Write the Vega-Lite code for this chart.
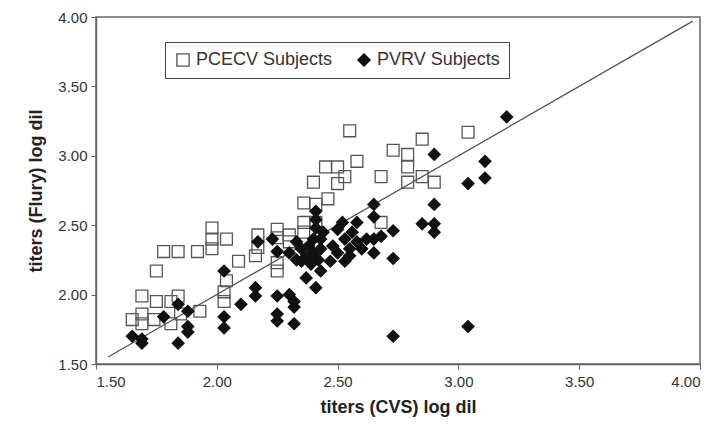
{
  "$schema": "https://vega.github.io/schema/vega-lite/v6.json",
  "width": 604,
  "height": 347,
  "autosize": {"type": "none"},
  "padding": {"left": 96, "top": 17, "right": 18, "bottom": 70},
  "background": "white",
  "config": {
    "view": {"stroke": "#666", "strokeWidth": 1.5},
    "font": "Liberation Sans",
    "axis": {
      "grid": false,
      "domainColor": "#666",
      "domainWidth": 1.5,
      "tickColor": "#666",
      "tickSize": 5,
      "labelFont": "Liberation Sans",
      "labelFontSize": 15,
      "labelColor": "#333",
      "titleFont": "Liberation Sans",
      "titleFontSize": 18,
      "titleFontWeight": "bold",
      "titleColor": "#222"
    }
  },
  "datasets": {
    "pts": [
      {"g": "PCECV Subjects", "x": 1.65, "y": 1.82},
      {"g": "PCECV Subjects", "x": 1.69, "y": 1.86},
      {"g": "PCECV Subjects", "x": 1.69, "y": 1.79},
      {"g": "PCECV Subjects", "x": 1.69, "y": 1.99},
      {"g": "PCECV Subjects", "x": 1.74, "y": 1.82},
      {"g": "PCECV Subjects", "x": 1.75, "y": 1.95},
      {"g": "PCECV Subjects", "x": 1.75, "y": 2.17},
      {"g": "PCECV Subjects", "x": 1.78, "y": 2.31},
      {"g": "PCECV Subjects", "x": 1.81, "y": 1.95},
      {"g": "PCECV Subjects", "x": 1.81, "y": 1.79},
      {"g": "PCECV Subjects", "x": 1.84, "y": 1.99},
      {"g": "PCECV Subjects", "x": 1.84, "y": 2.31},
      {"g": "PCECV Subjects", "x": 1.85, "y": 1.86},
      {"g": "PCECV Subjects", "x": 1.93, "y": 1.88},
      {"g": "PCECV Subjects", "x": 1.92, "y": 2.31},
      {"g": "PCECV Subjects", "x": 1.98, "y": 2.33},
      {"g": "PCECV Subjects", "x": 1.98, "y": 2.40},
      {"g": "PCECV Subjects", "x": 1.98, "y": 2.48},
      {"g": "PCECV Subjects", "x": 2.04, "y": 2.40},
      {"g": "PCECV Subjects", "x": 2.03, "y": 2.02},
      {"g": "PCECV Subjects", "x": 2.03, "y": 1.95},
      {"g": "PCECV Subjects", "x": 2.04, "y": 2.10},
      {"g": "PCECV Subjects", "x": 2.09, "y": 2.24},
      {"g": "PCECV Subjects", "x": 2.16, "y": 2.28},
      {"g": "PCECV Subjects", "x": 2.17, "y": 2.34},
      {"g": "PCECV Subjects", "x": 2.17, "y": 2.43},
      {"g": "PCECV Subjects", "x": 2.25, "y": 2.17},
      {"g": "PCECV Subjects", "x": 2.25, "y": 2.23},
      {"g": "PCECV Subjects", "x": 2.25, "y": 2.41},
      {"g": "PCECV Subjects", "x": 2.25, "y": 2.47},
      {"g": "PCECV Subjects", "x": 2.30, "y": 2.43},
      {"g": "PCECV Subjects", "x": 2.30, "y": 2.38},
      {"g": "PCECV Subjects", "x": 2.36, "y": 2.52},
      {"g": "PCECV Subjects", "x": 2.36, "y": 2.45},
      {"g": "PCECV Subjects", "x": 2.41, "y": 2.52},
      {"g": "PCECV Subjects", "x": 2.36, "y": 2.66},
      {"g": "PCECV Subjects", "x": 2.41, "y": 2.65},
      {"g": "PCECV Subjects", "x": 2.46, "y": 2.69},
      {"g": "PCECV Subjects", "x": 2.40, "y": 2.81},
      {"g": "PCECV Subjects", "x": 2.45, "y": 2.92},
      {"g": "PCECV Subjects", "x": 2.50, "y": 2.92},
      {"g": "PCECV Subjects", "x": 2.50, "y": 2.80},
      {"g": "PCECV Subjects", "x": 2.53, "y": 2.85},
      {"g": "PCECV Subjects", "x": 2.55, "y": 3.18},
      {"g": "PCECV Subjects", "x": 2.58, "y": 2.96},
      {"g": "PCECV Subjects", "x": 2.68, "y": 2.85},
      {"g": "PCECV Subjects", "x": 2.68, "y": 2.52},
      {"g": "PCECV Subjects", "x": 2.73, "y": 3.04},
      {"g": "PCECV Subjects", "x": 2.79, "y": 3.01},
      {"g": "PCECV Subjects", "x": 2.79, "y": 2.92},
      {"g": "PCECV Subjects", "x": 2.79, "y": 2.81},
      {"g": "PCECV Subjects", "x": 2.85, "y": 3.12},
      {"g": "PCECV Subjects", "x": 2.85, "y": 2.85},
      {"g": "PCECV Subjects", "x": 2.90, "y": 2.81},
      {"g": "PCECV Subjects", "x": 3.04, "y": 3.17},
      {"g": "PVRV Subjects", "x": 1.65, "y": 1.70},
      {"g": "PVRV Subjects", "x": 1.69, "y": 1.68},
      {"g": "PVRV Subjects", "x": 1.69, "y": 1.65},
      {"g": "PVRV Subjects", "x": 1.78, "y": 1.84},
      {"g": "PVRV Subjects", "x": 1.84, "y": 1.93},
      {"g": "PVRV Subjects", "x": 1.84, "y": 1.65},
      {"g": "PVRV Subjects", "x": 1.88, "y": 1.88},
      {"g": "PVRV Subjects", "x": 1.88, "y": 1.77},
      {"g": "PVRV Subjects", "x": 1.88, "y": 1.73},
      {"g": "PVRV Subjects", "x": 2.03, "y": 2.17},
      {"g": "PVRV Subjects", "x": 2.03, "y": 1.84},
      {"g": "PVRV Subjects", "x": 2.03, "y": 1.76},
      {"g": "PVRV Subjects", "x": 2.10, "y": 1.93},
      {"g": "PVRV Subjects", "x": 2.16, "y": 2.05},
      {"g": "PVRV Subjects", "x": 2.16, "y": 1.99},
      {"g": "PVRV Subjects", "x": 2.17, "y": 2.38},
      {"g": "PVRV Subjects", "x": 2.23, "y": 2.40},
      {"g": "PVRV Subjects", "x": 2.25, "y": 2.31},
      {"g": "PVRV Subjects", "x": 2.25, "y": 1.99},
      {"g": "PVRV Subjects", "x": 2.25, "y": 1.86},
      {"g": "PVRV Subjects", "x": 2.25, "y": 1.81},
      {"g": "PVRV Subjects", "x": 2.30, "y": 2.00},
      {"g": "PVRV Subjects", "x": 2.32, "y": 1.95},
      {"g": "PVRV Subjects", "x": 2.32, "y": 1.91},
      {"g": "PVRV Subjects", "x": 2.32, "y": 1.79},
      {"g": "PVRV Subjects", "x": 2.37, "y": 2.12},
      {"g": "PVRV Subjects", "x": 2.41, "y": 2.05},
      {"g": "PVRV Subjects", "x": 2.43, "y": 2.17},
      {"g": "PVRV Subjects", "x": 2.41, "y": 2.60},
      {"g": "PVRV Subjects", "x": 2.41, "y": 2.54},
      {"g": "PVRV Subjects", "x": 2.30, "y": 2.30},
      {"g": "PVRV Subjects", "x": 2.33, "y": 2.25},
      {"g": "PVRV Subjects", "x": 2.35, "y": 2.33},
      {"g": "PVRV Subjects", "x": 2.37, "y": 2.27},
      {"g": "PVRV Subjects", "x": 2.38, "y": 2.35},
      {"g": "PVRV Subjects", "x": 2.40, "y": 2.30},
      {"g": "PVRV Subjects", "x": 2.40, "y": 2.40},
      {"g": "PVRV Subjects", "x": 2.42, "y": 2.25},
      {"g": "PVRV Subjects", "x": 2.43, "y": 2.33},
      {"g": "PVRV Subjects", "x": 2.44, "y": 2.45},
      {"g": "PVRV Subjects", "x": 2.41, "y": 2.48},
      {"g": "PVRV Subjects", "x": 2.35, "y": 2.24},
      {"g": "PVRV Subjects", "x": 2.33, "y": 2.38},
      {"g": "PVRV Subjects", "x": 2.39, "y": 2.22},
      {"g": "PVRV Subjects", "x": 2.43, "y": 2.40},
      {"g": "PVRV Subjects", "x": 2.50, "y": 2.47},
      {"g": "PVRV Subjects", "x": 2.52, "y": 2.52},
      {"g": "PVRV Subjects", "x": 2.53, "y": 2.40},
      {"g": "PVRV Subjects", "x": 2.55, "y": 2.33},
      {"g": "PVRV Subjects", "x": 2.56, "y": 2.45},
      {"g": "PVRV Subjects", "x": 2.58, "y": 2.52},
      {"g": "PVRV Subjects", "x": 2.58, "y": 2.38},
      {"g": "PVRV Subjects", "x": 2.60, "y": 2.33},
      {"g": "PVRV Subjects", "x": 2.53, "y": 2.24},
      {"g": "PVRV Subjects", "x": 2.50, "y": 2.30},
      {"g": "PVRV Subjects", "x": 2.55, "y": 2.28},
      {"g": "PVRV Subjects", "x": 2.62, "y": 2.40},
      {"g": "PVRV Subjects", "x": 2.48, "y": 2.35},
      {"g": "PVRV Subjects", "x": 2.47, "y": 2.24},
      {"g": "PVRV Subjects", "x": 2.65, "y": 2.65},
      {"g": "PVRV Subjects", "x": 2.65, "y": 2.56},
      {"g": "PVRV Subjects", "x": 2.65, "y": 2.40},
      {"g": "PVRV Subjects", "x": 2.65, "y": 2.30},
      {"g": "PVRV Subjects", "x": 2.68, "y": 2.42},
      {"g": "PVRV Subjects", "x": 2.73, "y": 2.46},
      {"g": "PVRV Subjects", "x": 2.73, "y": 2.26},
      {"g": "PVRV Subjects", "x": 2.73, "y": 1.70},
      {"g": "PVRV Subjects", "x": 2.85, "y": 2.51},
      {"g": "PVRV Subjects", "x": 2.90, "y": 2.51},
      {"g": "PVRV Subjects", "x": 2.90, "y": 2.45},
      {"g": "PVRV Subjects", "x": 2.90, "y": 2.65},
      {"g": "PVRV Subjects", "x": 2.90, "y": 3.01},
      {"g": "PVRV Subjects", "x": 3.04, "y": 2.80},
      {"g": "PVRV Subjects", "x": 3.11, "y": 2.96},
      {"g": "PVRV Subjects", "x": 3.11, "y": 2.84},
      {"g": "PVRV Subjects", "x": 3.20, "y": 3.28},
      {"g": "PVRV Subjects", "x": 3.04, "y": 1.77}
    ],
    "diag": [
      {"x": 1.55, "y": 1.55},
      {"x": 3.97, "y": 3.97}
    ]
  },
  "layer": [
    {
      "data": {"name": "diag"},
      "mark": {"type": "line", "color": "#555", "strokeWidth": 1.3},
      "encoding": {
        "x": {"field": "x", "type": "quantitative"},
        "y": {"field": "y", "type": "quantitative"}
      }
    },
    {
      "data": {"name": "pts"},
      "mark": {"type": "point", "filled": true, "strokeWidth": 1.3, "opacity": 1},
      "encoding": {
        "x": {
          "field": "x", "type": "quantitative",
          "scale": {"domain": [1.5, 4.0], "nice": false, "zero": false},
          "axis": {"values": [1.5, 2.0, 2.5, 3.0, 3.5, 4.0], "format": ".2f", "title": "titers (CVS) log dil", "titlePadding": 9, "labelPadding": 5}
        },
        "y": {
          "field": "y", "type": "quantitative",
          "scale": {"domain": [1.5, 4.0], "nice": false, "zero": false},
          "axis": {"values": [1.5, 2.0, 2.5, 3.0, 3.5, 4.0], "format": ".2f", "title": "titers (Flury) log dil", "titlePadding": 12, "labelPadding": 4}
        },
        "shape": {
          "field": "g", "type": "nominal",
          "scale": {"domain": ["PCECV Subjects", "PVRV Subjects"], "range": ["square", "diamond"]},
          "legend": {
            "title": null,
            "orient": "none",
            "legendX": 69,
            "legendY": 25,
            "direction": "horizontal",
            "strokeColor": "#444",
            "padding": 9,
            "labelFont": "Liberation Sans",
            "labelFontSize": 18,
            "labelColor": "#333",
            "symbolSize": 150,
            "columnPadding": 22,
            "symbolStrokeWidth": 1.3
          }
        },
        "fill": {
          "field": "g", "type": "nominal",
          "scale": {"domain": ["PCECV Subjects", "PVRV Subjects"], "range": ["transparent", "#111"]},
          "legend": null
        },
        "stroke": {
          "field": "g", "type": "nominal",
          "scale": {"domain": ["PCECV Subjects", "PVRV Subjects"], "range": ["#555", "#111"]},
          "legend": null
        },
        "size": {"value": 140}
      }
    }
  ]
}
